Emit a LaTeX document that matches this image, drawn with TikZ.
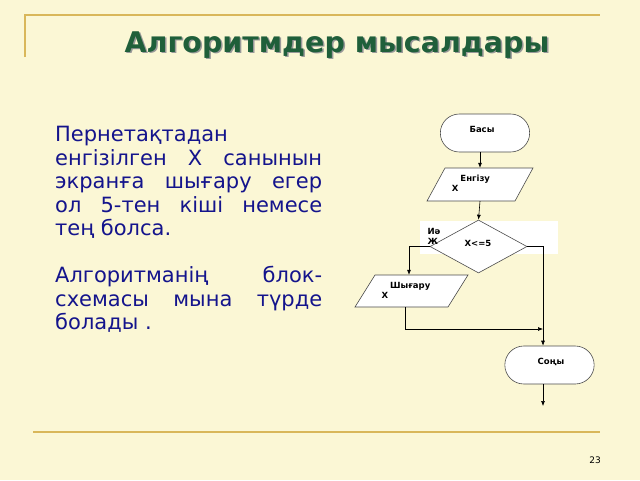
\documentclass[tikz,border=0pt]{standalone}
\usepackage{fontspec}
\setmainfont{DejaVu Sans}
\usetikzlibrary{shapes.geometric,shapes.misc,arrows.meta}
\definecolor{bg}{HTML}{FBF7D5}
\definecolor{gold}{HTML}{D9B75A}
\definecolor{ttl}{HTML}{1F5F3A}
\definecolor{txt}{HTML}{14148C}
\begin{document}
\begin{tikzpicture}[x=1pt,y=-1pt,
  fc/.style={draw=black!70,fill=white,line width=0.6pt},
  term/.style={fc,rounded rectangle,minimum width=96pt,minimum height=38pt},
  arr/.style={-{Latex[length=5pt,width=4pt]},line width=0.6pt},
  lbl/.style={font=\bfseries\fontsize{8.5}{10}\selectfont,align=left}]
\useasboundingbox (0,0) rectangle (640,480);
\fill[bg] (0,0) rectangle (640,480);
\draw[gold,line width=1.5pt] (25,57) -- (25,15) -- (600,15);
\draw[gold,line width=1.5pt] (33,432) -- (600,432);
\node[black!40,font=\bfseries\fontsize{28.5}{30}\selectfont] at (338.5,46.5) {Алгоритмдер мысалдары};
\node[ttl,font=\bfseries\fontsize{28.5}{30}\selectfont] (title) at (337,45) {Алгоритмдер мысалдары};
\node[txt,anchor=north west,inner sep=0,text width=267pt,align=justify,font=\fontsize{21}{23.5}\selectfont] (body) at (55,126)
{Пернетақтадан енгізілген Х санынын экранға шығару егер ол 5-тен кіші немесе тең болса.\par\vspace{23.5pt}
Алгоритманің блок-схемасы мына түрде болады .};
\node[font=\fontsize{9}{10}\selectfont] (pg) at (595,460) {23};
\fill[white] (420,221) rectangle (558,254);
\node[term] (start) at (485,133) {};
\node[lbl] at (482,129) {Басы};
\draw[fc] (445,168) -- (533,168) -- (515,201) -- (427,201) -- cycle;
\node[minimum width=88pt,minimum height=33pt] (in) at (480,184.5) {};
\node[lbl] at (471,183) {\quad Енгізу\\X};
\node[fc,diamond,aspect=1.85,minimum width=97pt,minimum height=53pt,inner sep=0] (d) at (478.5,246.5) {};
\node[lbl] at (478,243) {X<=5};
\node[lbl] at (434,236) {Иә\\Ж};
\draw[fc] (375,275) -- (468,275) -- (448,307) -- (355,307) -- cycle;
\node[minimum width=93pt,minimum height=32pt] (out) at (411.5,291) {};
\node[lbl] at (406,290) {\quad Шығару\\X};
\node[term] (end) at (549.5,365) {};
\node[lbl] at (551,362) {Соңы};
\coordinate (j) at (543,329);
\coordinate (fin) at (543,406);
\draw[arr] (start.south -| 480,0) -- (in.north -| 480,0);
\draw[arr] (in.south -| 480,0) -- (d.north);
\draw[arr] (d.west) -- (409,246.5) -- (out.north -| 409,0);
\draw[arr] (out.south -| 405,0) -- (405,329) -- (j);
\draw[arr] (d.east) -- (543,246.5) -- (end.north -| 543,0);
\draw[arr] (end.south -| 543,0) -- (fin);
\end{tikzpicture}
\end{document}
